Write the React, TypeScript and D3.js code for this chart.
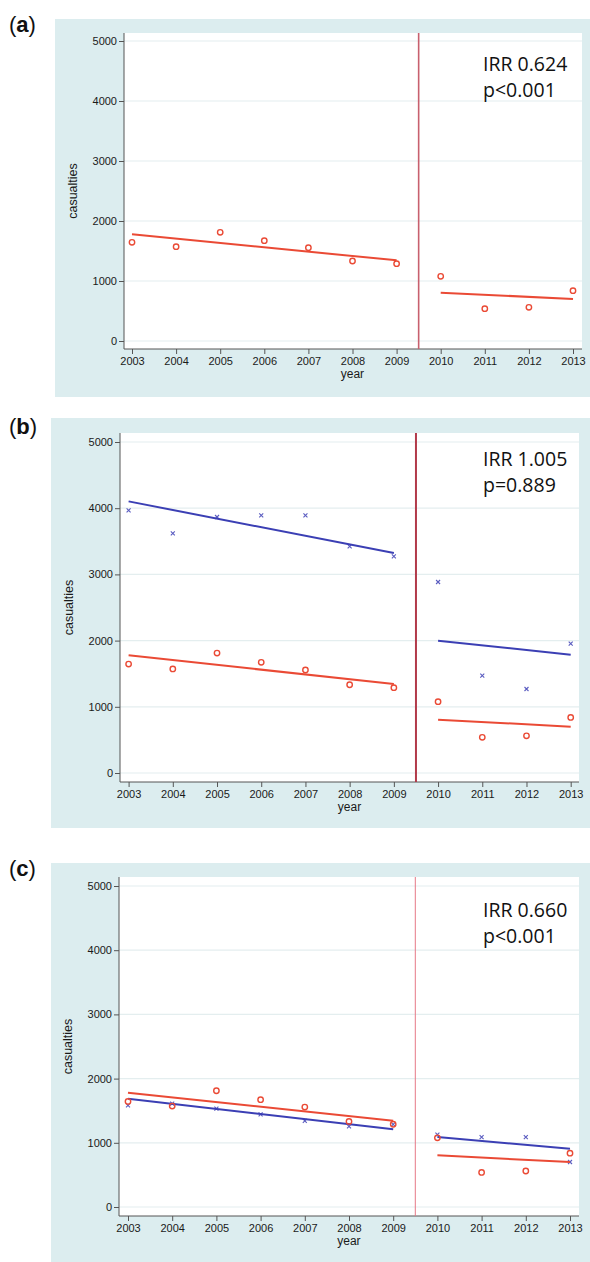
import React, {useEffect, useRef} from 'react';
import * as d3 from 'd3';

// years on the x axis, before and after the intervention
const years = [2003, 2004, 2005, 2006, 2007, 2008, 2009, 2010, 2011, 2012, 2013];
const yTicks = [0, 1000, 2000, 3000, 4000, 5000];

// observed casualties (red circles)
const redCounts = [1645, 1572, 1811, 1672, 1556, 1333, 1289, 1078, 539, 561, 839];
// comparison series (blue crosses) for panels b and c
const blueCountsB = [3967, 3620, 3867, 3891, 3891, 3423, 3272, 2885, 1470, 1269, 1953];
const blueCountsC = [1584, 1610, 1532, 1443, 1340, 1256, 1288, 1127, 1090, 1090, 701];

// fitted segments: [value at start year, value at end year]
const preSpan = [2003, 2009];
const postSpan = [2010, 2013];
const redFitPre = [1778, 1344];
const redFitPost = [806, 700];
const blueFitPreB = [4103, 3323];
const blueFitPostB = [1998, 1787];
const blueFitPreC = [1687, 1210];
const blueFitPostC = [1090, 909];

const panelLabels = ['a', 'b', 'c'];
const irrLabels = ['IRR 0.624', 'IRR 1.005', 'IRR 0.660'];
const pLabels = ['p<0.001', 'p=0.889', 'p<0.001'];

const RED = '#ea4a35';
const BLUE = '#3b3fb4';

type Layout = {
  bgTop: number; bgLeft: number; bgBottom: number;
  left: number; right: number; top: number; bottom: number;
  y0: number; y5000: number; x0: number; x1: number;
  irrY: number; cutColor: string; cutWidth: number; labelY: number;
};

const layouts: Layout[] = [
  {bgTop: 19, bgLeft: 55, bgBottom: 397, left: 124, right: 582, top: 33, bottom: 349,
    y0: 341, y5000: 41, x0: 132, x1: 573, irrY: 71, cutColor: '#c8606e', cutWidth: 1.6, labelY: 32},
  {bgTop: 418, bgLeft: 51, bgBottom: 828, left: 120, right: 579, top: 433, bottom: 782,
    y0: 773, y5000: 442, x0: 128.6, x1: 570.7, irrY: 466, cutColor: '#b23a4a', cutWidth: 2, labelY: 434},
  {bgTop: 863, bgLeft: 51, bgBottom: 1262, left: 119, right: 579, top: 877, bottom: 1216,
    y0: 1207, y5000: 886, x0: 128, x1: 570, irrY: 917, cutColor: '#e67886', cutWidth: 1, labelY: 876},
];

const blueSets = [null, {pts: blueCountsB, pre: blueFitPreB, post: blueFitPostB},
  {pts: blueCountsC, pre: blueFitPreC, post: blueFitPostC}];

const App: React.FC = () => {
  const ref = useRef<SVGSVGElement>(null);

  useEffect(() => {
    const svg = d3.select(ref.current);
    svg.selectAll('*').remove();

    layouts.forEach((L, i) => {
      const g = svg.append('g');
      const x = d3.scaleLinear().domain([2003, 2013]).range([L.x0, L.x1]);
      const y = d3.scaleLinear().domain([0, 5000]).range([L.y0, L.y5000]);

      // panel letter
      g.append('text')
      .attr('x', 9).attr('y', L.labelY)
      .attr('font-family', 'Liberation Sans, Arial, sans-serif')
      .attr('font-size', 22)
      .attr('fill', '#111')
      .call(t => t.append('tspan').text('('))
      .call(t => t.append('tspan').attr('font-weight', 'bold').text(panelLabels[i]))
      .call(t => t.append('tspan').text(')'));

      // background and plot region
      g.append('rect')
      .attr('x', L.bgLeft).attr('y', L.bgTop)
      .attr('width', 590 - L.bgLeft).attr('height', L.bgBottom - L.bgTop)
      .attr('fill', '#dcedef');
      g.append('rect')
      .attr('x', L.left).attr('y', L.top)
      .attr('width', L.right - L.left).attr('height', L.bottom - L.top)
      .attr('fill', '#ffffff');

      // gridlines
      g.append('g')
      .selectAll('line')
      .data(yTicks)
      .join('line')
      .attr('x1', L.left).attr('x2', L.right)
      .attr('y1', d => y(d)).attr('y2', d => y(d))
      .attr('stroke', '#e4eeef').attr('stroke-width', 1.2);

      // y axis
      const yAxis = g.append('g')
      .attr('transform', `translate(${L.left},0)`)
      .call(d3.axisLeft(y).tickValues(yTicks).tickSize(5).tickPadding(2).tickFormat(d3.format('d')));
      yAxis.select('.domain').attr('d', `M0,${L.top}V${L.bottom}`).attr('stroke', '#555');
      yAxis.selectAll('line').attr('stroke', '#555');
      yAxis.selectAll('text')
      .attr('font-family', 'Liberation Sans, Arial, sans-serif')
      .attr('font-size', 11).attr('fill', '#1a1a1a');

      // x axis
      const xAxis = g.append('g')
      .attr('transform', `translate(0,${L.bottom})`)
      .call(d3.axisBottom(x).tickValues(years).tickSize(5).tickPadding(3).tickFormat(d3.format('d')));
      xAxis.select('.domain').attr('d', `M${L.left},0H${L.right}`).attr('stroke', '#555');
      xAxis.selectAll('line').attr('stroke', '#555');
      xAxis.selectAll('text')
      .attr('font-family', 'Liberation Sans, Arial, sans-serif')
      .attr('font-size', 11).attr('fill', '#1a1a1a');

      // axis titles
      g.append('text')
      .attr('x', (x(2008) + x(2007)) / 2 + 22).attr('y', L.bottom + 29)
      .attr('text-anchor', 'middle')
      .attr('font-family', 'Liberation Sans, Arial, sans-serif')
      .attr('font-size', 12).attr('fill', '#1a1a1a')
      .text('year');
      g.append('text')
      .attr('transform', `translate(${L.left - 47},${(L.top + L.bottom) / 2}) rotate(-90)`)
      .attr('text-anchor', 'middle')
      .attr('font-family', 'Liberation Sans, Arial, sans-serif')
      .attr('font-size', 12.5).attr('fill', '#1a1a1a')
      .text('casualties');

      // intervention line
      g.append('line')
      .attr('x1', x(2009.5)).attr('x2', x(2009.5))
      .attr('y1', L.top).attr('y2', L.bottom)
      .attr('stroke', L.cutColor).attr('stroke-width', L.cutWidth);

      const fit = (span: number[], vals: number[], color: string) =>
        g.append('line')
        .attr('x1', x(span[0])).attr('x2', x(span[1]))
        .attr('y1', y(vals[0])).attr('y2', y(vals[1]))
        .attr('stroke', color).attr('stroke-width', 2);

      const blue = blueSets[i];
      if (blue) {
        g.append('g')
        .selectAll('path')
        .data(blue.pts)
        .join('path')
        .attr('d', (d, k) => {
          const cx = x(years[k]), cy = y(d), r = 2;
          return `M${cx - r},${cy - r}L${cx + r},${cy + r}M${cx - r},${cy + r}L${cx + r},${cy - r}`;
        })
        .attr('stroke', '#5a5cc0').attr('stroke-width', 1.1);
        fit(preSpan, blue.pre, BLUE);
        fit(postSpan, blue.post, BLUE);
      }

      fit(preSpan, redFitPre, RED);
      fit(postSpan, redFitPost, RED);

      g.append('g')
      .selectAll('circle')
      .data(redCounts)
      .join('circle')
      .attr('cx', (_, k) => x(years[k]))
      .attr('cy', d => y(d))
      .attr('r', 2.7)
      .attr('fill', 'none')
      .attr('stroke', RED).attr('stroke-width', 1.4);

      // IRR annotation
      g.append('text')
      .attr('x', 483).attr('y', L.irrY)
      .attr('font-family', 'Open Sans, Lato, sans-serif')
      .attr('font-size', 19.5).attr('fill', '#111')
      .call(t => t.append('tspan').attr('x', 483).text(irrLabels[i]))
      .call(t => t.append('tspan').attr('x', 483).attr('dy', 26).text(pLabels[i]));
    });
  }, []);

  return (
    <svg ref={ref} width={590} height={1262}
         style={{position: 'absolute', left: 0, top: 0, background: '#fff'}}/>
  );
};

export default App;
